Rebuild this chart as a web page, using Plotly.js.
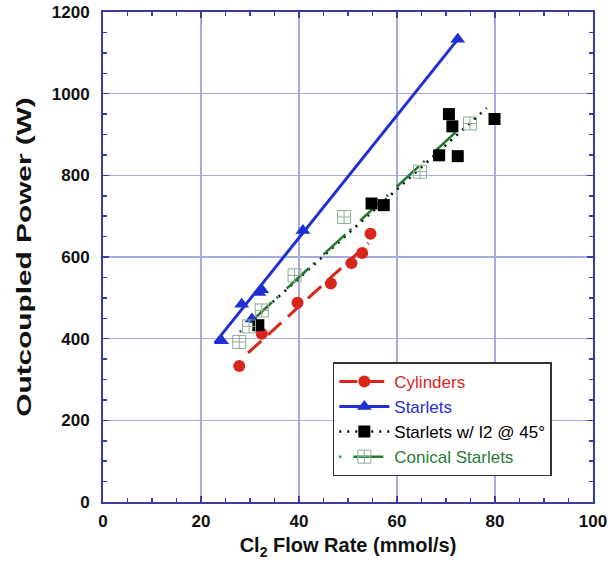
<!DOCTYPE html>
<html>
<head>
<meta charset="utf-8">
<script src="https://cdn.plot.ly/plotly-3.0.1.min.js"></script>
<style>
  html, body { margin: 0; padding: 0; background: #ffffff; }
  #chart { width: 609px; height: 569px; }
</style>
</head>
<body>
<div id="chart"></div>
<script>
// Outcoupled laser power vs. Cl2 flow rate for four nozzle configurations.

// Cylinders
const cylFlow  = [27.8, 32.4, 39.7, 46.5, 50.7, 52.9, 54.6];
const cylPower = [333, 412, 488, 535, 585, 610, 657];
const cylFitFlow  = [29.6, 54.2];
const cylFitPower = [365, 634];

// Starlets
const starFlow  = [24.2, 28.3, 30.4, 31.8, 32.4, 40.8, 72.4];
const starPower = [395, 484, 448, 513, 520, 665, 1133];
const starFitFlow  = [22.8, 72.4];
const starFitPower = [389, 1133];

// Starlets w/ I2 @ 45°
const i2Flow  = [31.7, 54.8, 57.3, 68.6, 70.6, 71.3, 72.4, 79.9];
const i2Power = [433, 731, 727, 849, 950, 920, 847, 938];
const i2FitFlow  = [31.0, 78.3];
const i2FitPower = [450, 965];

// Conical Starlets
const conFlow  = [27.8, 29.8, 32.4, 39.1, 49.2, 64.7, 74.9];
const conPower = [392, 430, 469, 555, 698, 809, 927];
const conFitFlow  = [27.9, 72.0];
const conFitPower = [416, 906];

const seriesNames = ['Cylinders', 'Starlets', 'Starlets w/ I2 @ 45°', 'Conical Starlets'];

const RED = '#d8261b';
const BLUE = '#1f2fd2';
const GREEN = '#20792c';
const BLACK = '#000000';
const GRID = '#a9a9e4';
const AXIS = '#3a3aa6';
const FONT = '"Liberation Sans", Arial, sans-serif';

const styles = [
  { color: RED,   line: { color: RED, width: 3, dash: '18px,9px' },
    marker: { symbol: 'circle', size: 12, color: RED } },
  { color: BLUE,  line: { color: BLUE, width: 3 },
    marker: { symbol: 'triangle-up', size: 13, color: BLUE } },
  { color: BLACK, line: { color: BLACK, width: 2.5, dash: '2px,6px' },
    marker: { symbol: 'square', size: 12, color: BLACK } },
  { color: '#2a7a36', line: { color: GREEN, width: 2.5, dash: '2px,12px,30px,6px' },
    marker: { symbol: 'square-cross-open', size: 13, color: '#8fae92', line: { width: 1 } } }
];

const fits = [
  [cylFitFlow, cylFitPower],
  [starFitFlow, starFitPower],
  [i2FitFlow, i2FitPower],
  [conFitFlow, conFitPower]
];
const points = [
  [cylFlow, cylPower],
  [starFlow, starPower],
  [i2Flow, i2Power],
  [conFlow, conPower]
];

const data = [];
// least-squares fit lines
fits.forEach((f, i) => data.push({
  x: f[0], y: f[1], mode: 'lines', showlegend: false, hoverinfo: 'skip', line: styles[i].line
}));
// measured points
points.forEach((p, i) => data.push({
  x: p[0], y: p[1], mode: 'markers', showlegend: false, marker: styles[i].marker
}));
// legend entries (line + marker sample, coloured label)
seriesNames.forEach((n, i) => data.push({
  name: '<span style="color:' + styles[i].color + '">' + n + '</span>',
  x: [null], y: [null], mode: 'lines+markers',
  line: styles[i].line, marker: styles[i].marker
}));

const axisCommon = {
  showline: true, linecolor: AXIS, linewidth: 2,
  mirror: 'allticks',
  showgrid: true, gridcolor: GRID, gridwidth: 1.2,
  zeroline: false,
  ticks: 'inside', ticklen: 6, tickwidth: 1.5, tickcolor: AXIS,
  tickfont: { family: FONT, size: 17, color: '#111111', weight: 'bold' },
  minor: { ticks: 'inside', ticklen: 4, tickwidth: 1.5, tickcolor: AXIS, showgrid: false }
};

const layout = {
  width: 609, height: 569,
  margin: { l: 103, r: 16, t: 12, b: 67 },
  paper_bgcolor: '#ffffff', plot_bgcolor: '#ffffff',
  font: { family: FONT, color: '#111111' },
  showlegend: true,
  xaxis: Object.assign({}, axisCommon, {
    range: [0, 100], dtick: 20, tick0: 0,
    minor: Object.assign({}, axisCommon.minor, { dtick: 5 }),
    ticklabelstandoff: 3,
    title: { text: '<b>Cl<sub>2</sub> Flow Rate (mmol/s)</b>', font: { family: FONT, size: 20, color: '#111111' }, standoff: 8 }
  }),
  yaxis: Object.assign({}, axisCommon, {
    range: [0, 1200], dtick: 200, tick0: 0,
    minor: Object.assign({}, axisCommon.minor, { dtick: 50 }),
    ticklabelstandoff: 8,
    title: { text: '<b>Outcoupled Power (W)</b>', font: { family: FONT, size: 21, color: '#111111' }, standoff: 14 }
  }),
  legend: {
    x: 0.469, y: 0.285, xanchor: 'left', yanchor: 'top',
    bgcolor: '#ffffff', bordercolor: '#333333', borderwidth: 1.5,
    font: { family: FONT, size: 17 },
    itemwidth: 50, tracegroupgap: 0,
    itemclick: false, itemdoubleclick: false
  }
};

Plotly.newPlot('chart', data, layout, { staticPlot: true, displayModeBar: false }).then(gd => {
  // the y-axis title is set in a tall, elongated face: stretch it along its reading direction
  const t = gd.querySelector('.ytitle');
  if (t) {
    const x = t.getAttribute('x'), y = t.getAttribute('y');
    t.setAttribute('transform',
      `rotate(-90,${x},${y}) translate(${x},${y}) scale(1.42,1) translate(${-x},${-y})`);
  }
});
</script>
</body>
</html>
